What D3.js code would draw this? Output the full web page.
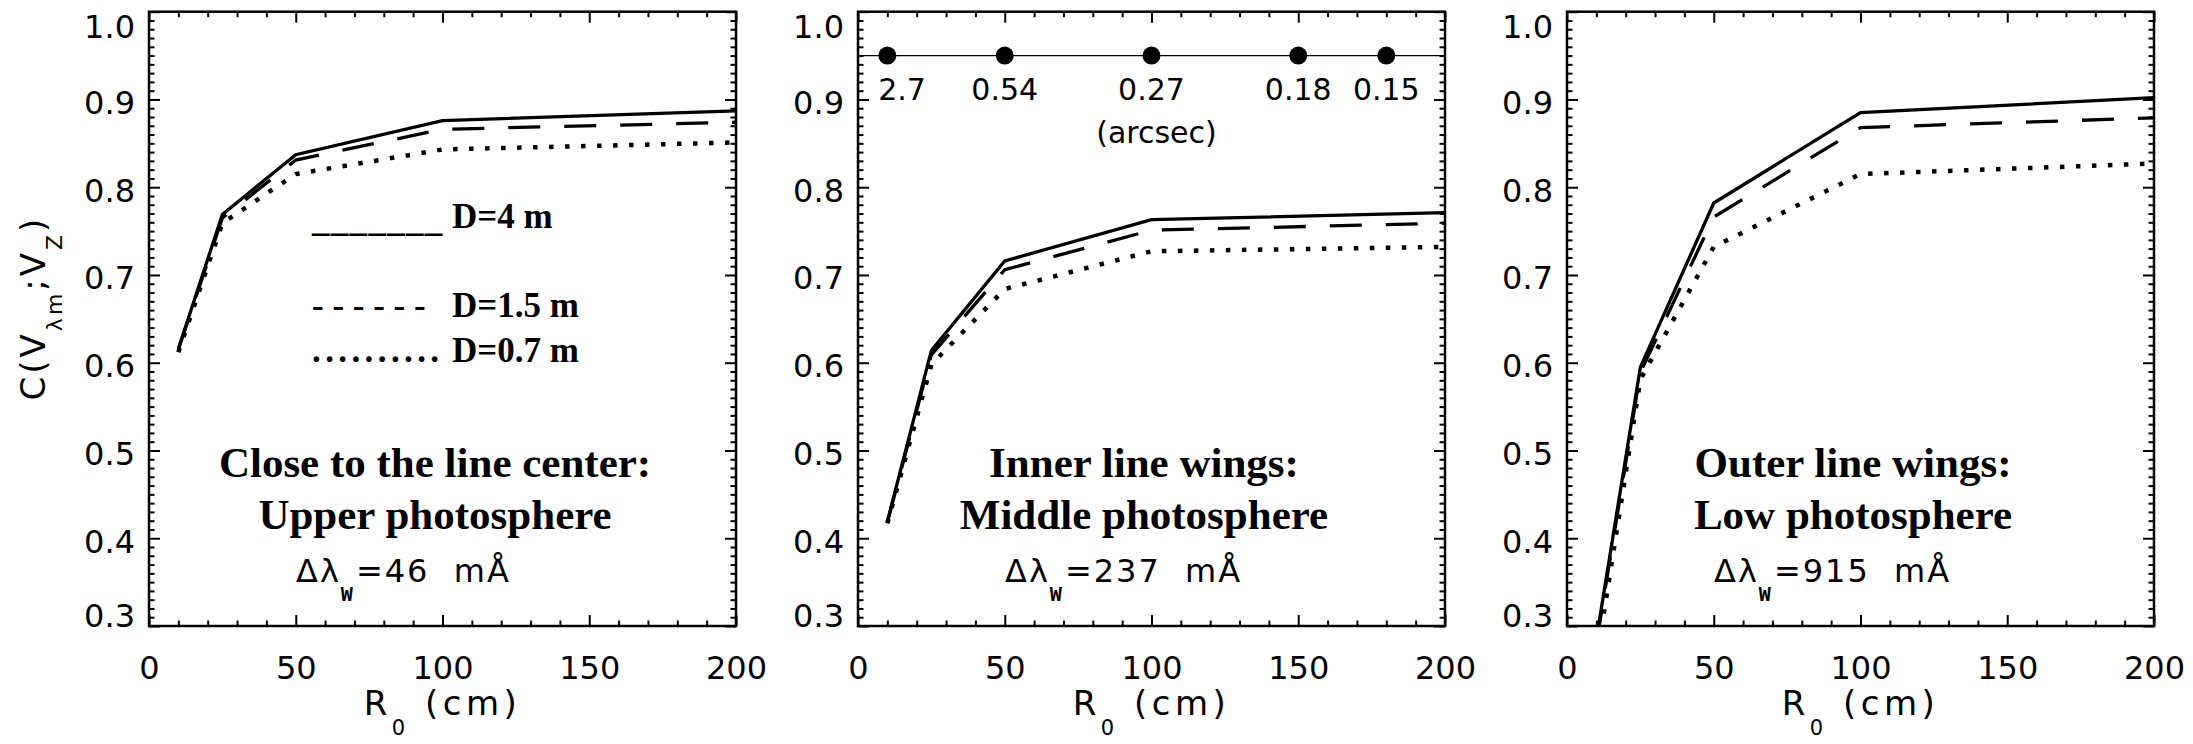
<!DOCTYPE html>
<html><head><meta charset="utf-8">
<script src="https://cdn.jsdelivr.net/npm/d3@7"></script>
<style>html,body{margin:0;padding:0;background:#fff;} svg{display:block;}</style>
</head><body>
<svg id="chart" width="2193" height="744"></svg>
<script>
// ---------------- data ----------------
const r0Values = [10, 25, 50, 100, 200];              // R0 (cm)
const seriesNames = ["D=4 m", "D=1.5 m", "D=0.7 m"];
const legendSymbols = ["_______", "- - - - - -", ".........."];

const upperD4  = [0.616, 0.769, 0.837, 0.876, 0.887];
const upperD15 = [0.615, 0.765, 0.831, 0.866, 0.874];
const upperD07 = [0.612, 0.759, 0.815, 0.843, 0.851];

const middleD4  = [0.419, 0.614, 0.716, 0.763, 0.771];
const middleD15 = [0.418, 0.609, 0.706, 0.751, 0.759];
const middleD07 = [0.417, 0.598, 0.684, 0.727, 0.732];

const lowD4  = [0.285, 0.595, 0.782, 0.885, 0.902];
const lowD15 = [0.280, 0.589, 0.766, 0.868, 0.879];
const lowD07 = [0.260, 0.581, 0.732, 0.815, 0.827];

const panelTitles = [
  ["Close to the line center:", "Upper photosphere"],
  ["Inner line wings:", "Middle photosphere"],
  ["Outer line wings:", "Low photosphere"]
];
const panelWidthsMA = ["46", "237", "915"];

const xTicks = [0, 50, 100, 150, 200];
const yTicks = [0.3, 0.4, 0.5, 0.6, 0.7, 0.8, 0.9, 1.0];

const seeingR0 = [10, 50, 100, 150, 180];
const seeingLabels = ["2.7", "0.54", "0.27", "0.18", "0.15"];
const seeingLevel = 0.95;

// ---------------- layout ----------------
const svg = d3.select("#chart");
svg.append("rect").attr("width", 2193).attr("height", 744).attr("fill", "#fff");

const plotTop = 11.7, plotBottom = 626, plotW = 587;
const lefts = [149, 858, 1567];
const panelSeries = [[upperD4, upperD15, upperD07], [middleD4, middleD15, middleD07], [lowD4, lowD15, lowD07]];
const lineStyles = [
  {dash: null, w: 3.3},
  {dash: "32 24", w: 3.3},
  {dash: "4.5 11.5", w: 4.5}
];
const hershey = "DejaVu Sans";
const serif = "Liberation Serif, Times New Roman, serif";

panelSeries.forEach((series, i) => {
  const L = lefts[i];
  const x = d3.scaleLinear().domain([0, 200]).range([L, L + plotW]);
  const y = d3.scaleLinear().domain([0.3, 1.0]).range([plotBottom, plotTop]);
  const g = svg.append("g");

  const cid = "clip" + i;
  svg.append("clipPath").attr("id", cid).append("rect")
    .attr("x", L).attr("y", plotTop).attr("width", plotW).attr("height", plotBottom - plotTop);

  // data lines
  const line = d3.line().x((d, j) => x(r0Values[j])).y(d => y(d));
  series.forEach((vals, k) => {
    g.append("path").attr("d", line(vals))
      .attr("fill", "none").attr("stroke", "#000")
      .attr("stroke-width", lineStyles[k].w)
      .attr("stroke-dasharray", lineStyles[k].dash)
      .attr("stroke-linejoin", "miter")
      .attr("clip-path", `url(#${cid})`);
  });

  // axes
  const minorX = d3.range(0, 201, 10).filter(v => v % 50 !== 0);
  const minorY = d3.range(30, 101).filter(v => v % 10 !== 0).map(v => v / 100);
  function ax(gen, tr, vals, size, fmt, pad) {
    const a = g.append("g").attr("transform", tr)
      .call(gen.tickValues(vals).tickSize(size).tickSizeOuter(0).tickFormat(fmt).tickPadding(pad || 3));
    a.select(".domain").remove();
    a.selectAll("line").attr("stroke", "#000").attr("stroke-width", 2);
    a.attr("font-family", hershey).attr("font-size", 32);
    a.selectAll("text").attr("fill", "#000");
    return a;
  }
  ax(d3.axisBottom(x), `translate(0,${plotBottom})`, xTicks, -11, d3.format("d"), 30);
  ax(d3.axisBottom(x), `translate(0,${plotBottom})`, minorX, -5.5, "");
  ax(d3.axisTop(x), `translate(0,${plotTop})`, xTicks, -11, "");
  ax(d3.axisTop(x), `translate(0,${plotTop})`, minorX, -5.5, "");
  const la = ax(d3.axisLeft(y), `translate(${L},0)`, yTicks, -11, d3.format(".1f"), 14);
  la.selectAll("text").attr("dy", d => d >= 0.999 ? 25.3 : (d <= 0.301 ? 0.7 : 13.8));
  ax(d3.axisLeft(y), `translate(${L},0)`, minorY, -5.5, "");
  ax(d3.axisRight(y), `translate(${L + plotW},0)`, yTicks, -11, "");
  ax(d3.axisRight(y), `translate(${L + plotW},0)`, minorY, -5.5, "");

  // frame
  g.append("rect").attr("x", L).attr("y", plotTop).attr("width", plotW).attr("height", plotBottom - plotTop)
    .attr("fill", "none").attr("stroke", "#000").attr("stroke-width", 2.5);

  // x title
  const xt = g.append("text").attr("x", (L + L + plotW) / 2).attr("y", 715)
    .attr("text-anchor", "middle").attr("font-family", hershey).attr("font-size", 34)
    .attr("letter-spacing", 4.5);
  xt.append("tspan").text("R");
  xt.append("tspan").attr("dy", 20).attr("font-size", 21).text("0");
  xt.append("tspan").attr("dy", -20).text(" (cm)");

  // panel annotation
  const cx = L + 286;
  panelTitles[i].forEach((t, k) => {
    g.append("text").attr("x", cx).attr("y", k === 0 ? 477 : 529)
      .attr("text-anchor", "middle").attr("font-family", serif).attr("font-weight", "bold")
      .attr("font-size", 43).attr("fill", "#000").text(t);
  });
  const dl = g.append("text").attr("x", L + 147).attr("y", 582)
    .attr("font-family", hershey).attr("font-size", 32).attr("letter-spacing", 2).attr("fill", "#000");
  dl.append("tspan").text("Δλ");
  dl.append("tspan").attr("dy", 19).attr("font-size", 20).attr("font-family", "DejaVu Sans Mono").attr("font-weight", "bold").attr("letter-spacing", 0).text("W");
  dl.append("tspan").attr("dy", -19).attr("dx", 3).text("=" + panelWidthsMA[i] + "\u00a0 mÅ");

  // legend (first panel)
  if (i === 0) {
    const ly = [231, 317, 362];
    const lyText = [228, 317, 362];
    const lsp = [1.3, 0, 4.4];
    seriesNames.forEach((n, k) => {
      g.append("text").attr("x", 312).attr("y", ly[k]).attr("font-family", serif).attr("font-weight", "bold")
        .attr("font-size", 35).attr("letter-spacing", lsp[k]).attr("xml:space", "preserve")
        .style("white-space", "pre").text(legendSymbols[k]);
      g.append("text").attr("x", 452).attr("y", lyText[k]).attr("font-family", serif).attr("font-weight", "bold")
        .attr("font-size", 35).attr("fill", "#000").text(n);
    });
    // y title
    const yt = g.append("text").attr("transform", "translate(45,308) rotate(-90)")
      .attr("text-anchor", "middle").attr("font-family", hershey).attr("font-size", 34)
      .attr("letter-spacing", 3);
    yt.append("tspan").text("C(V");
    yt.append("tspan").attr("dy", 17).attr("font-size", 22).text("λm");
    yt.append("tspan").attr("dy", -17).text(";V");
    yt.append("tspan").attr("dy", 17).attr("font-size", 22).text("Z");
    yt.append("tspan").attr("dy", -17).text(")");
  }

  // seeing scale (second panel)
  if (i === 1) {
    g.append("line").attr("x1", L).attr("x2", L + plotW).attr("y1", y(seeingLevel)).attr("y2", y(seeingLevel))
      .attr("stroke", "#000").attr("stroke-width", 1.3);
    g.selectAll("circle.seeing").data(seeingR0).join("circle").attr("class", "seeing")
      .attr("cx", d => x(d)).attr("cy", y(seeingLevel)).attr("r", 9).attr("fill", "#000");
    g.selectAll("text.seeing").data(seeingLabels).join("text").attr("class", "seeing")
      .attr("x", (d, j) => Math.max(x(seeingR0[j]), L + 44)).attr("y", 100)
      .attr("text-anchor", "middle").attr("font-family", hershey).attr("font-size", 30).attr("fill", "#000")
      .text(d => d);
    g.append("text").attr("x", x(100) + 5).attr("y", 143).attr("text-anchor", "middle")
      .attr("font-family", hershey).attr("font-size", 30).attr("fill", "#000").text("(arcsec)");
  }
});
</script>
</body></html>
